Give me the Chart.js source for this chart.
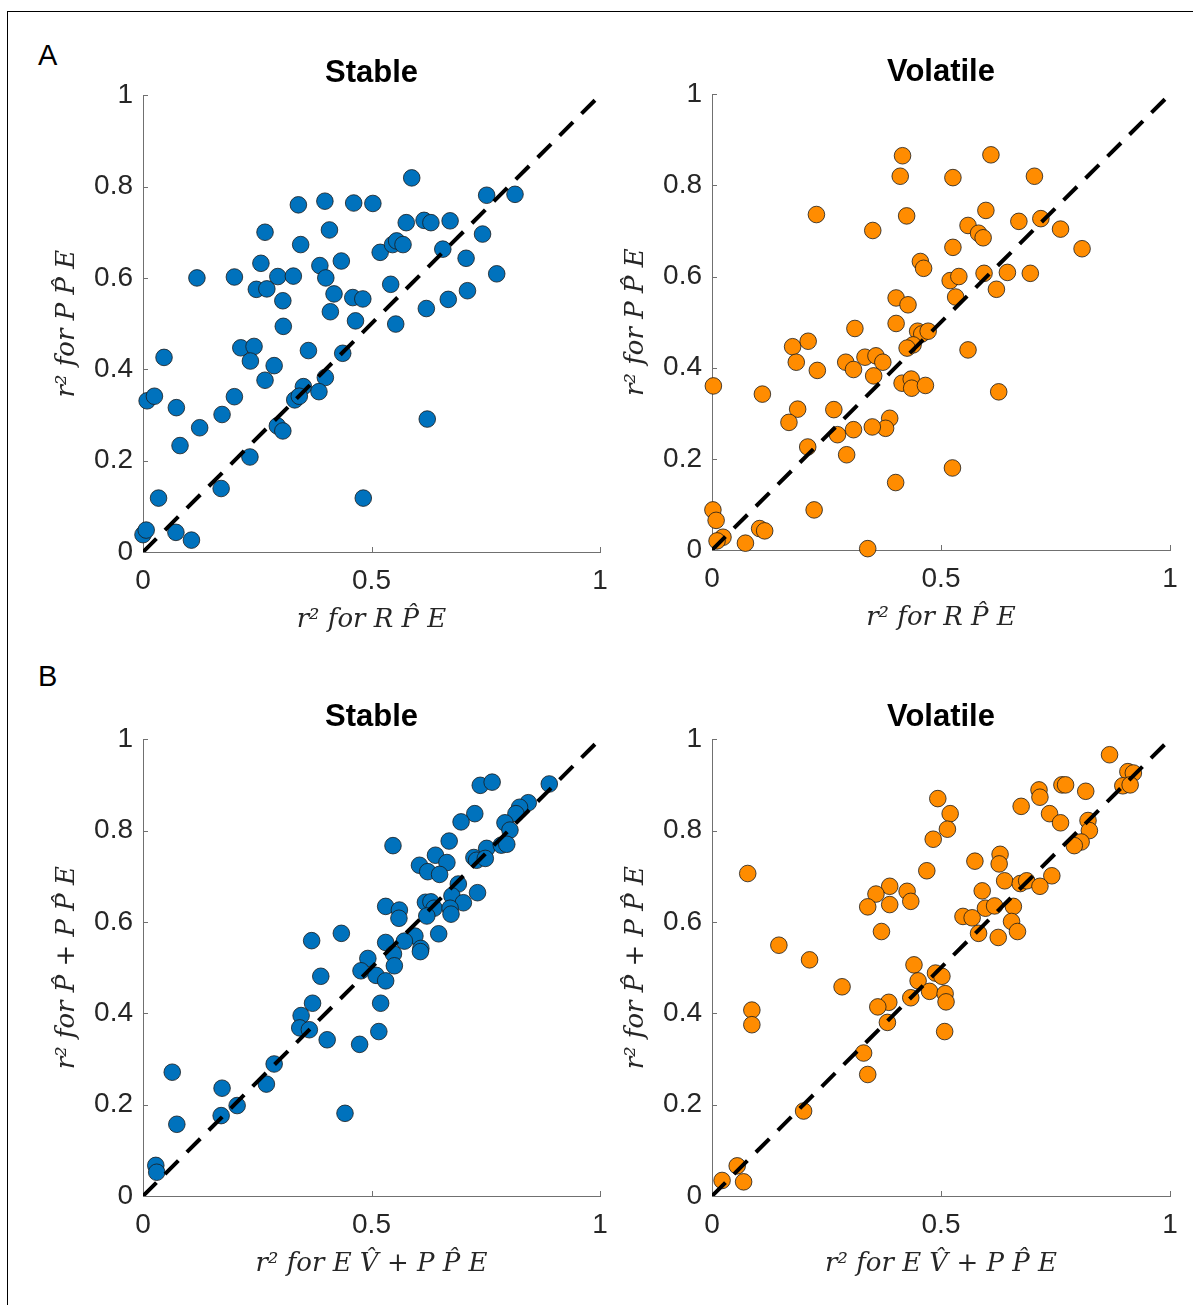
<!DOCTYPE html>
<html>
<head>
<meta charset="utf-8">
<script src="https://cdn.jsdelivr.net/npm/chart.js@4.4.1/dist/chart.umd.min.js"></script>
<style>
    body { margin: 0; background: #fff; width: 1193px; height: 1305px; position: relative; overflow: hidden; }
    canvas { position: absolute; }
    .frame { position: absolute; left: 7px; top: 11px; width: 1300px; height: 1400px; border-top: 1px solid #000; border-left: 1px solid #000; }
    .letter { position: absolute; font-family: "Liberation Sans", Arial, sans-serif; font-size: 29px; line-height: 29px; color: #000; }
</style>
</head>
<body>
<div class="frame"></div>
<div class="letter" style="left:38px; top:41px;">A</div>
<div class="letter" style="left:38px; top:662px;">B</div>
<canvas id="stableA"></canvas>
<canvas id="volatileA"></canvas>
<canvas id="stableB"></canvas>
<canvas id="volatileB"></canvas>
<script>
// Tick values / labels and reference line range
const xTicks = [0, 0.5, 1];
const xTickLabels = ["0", "0.5", "1"];
const yTicks = [0, 0.2, 0.4, 0.6, 0.8, 1];
const yTickLabels = ["0", "0.2", "0.4", "0.6", "0.8", "1"];
const identityRange = [0, 1];

// A - Stable: r2 for RPE (x) vs r2 for PPE (y)
const stableA_x = [0.588, 0.752, 0.814, 0.340, 0.398, 0.461, 0.503, 0.576, 0.615, 0.630,
    0.672, 0.267, 0.408, 0.743, 0.345, 0.519, 0.546, 0.555, 0.569, 0.656,
    0.258, 0.387, 0.434, 0.707, 0.118, 0.200, 0.295, 0.329, 0.400, 0.774,
    0.248, 0.271, 0.306, 0.418, 0.459, 0.481, 0.542, 0.710, 0.668, 0.410,
    0.465, 0.553, 0.620, 0.307, 0.214, 0.243, 0.362, 0.437, 0.046, 0.235,
    0.287, 0.267, 0.399, 0.351, 0.009, 0.025, 0.200, 0.332, 0.342, 0.385,
    0.073, 0.173, 0.124, 0.294, 0.306, 0.622, 0.081, 0.234, 0.171, 0.034,
    0.482, 0.000, 0.007, 0.072, 0.106];
const stableA_y = [0.819, 0.781, 0.783, 0.760, 0.768, 0.764, 0.763, 0.721, 0.726, 0.721,
    0.725, 0.700, 0.705, 0.696, 0.673, 0.656, 0.673, 0.681, 0.673, 0.663,
    0.632, 0.627, 0.637, 0.643, 0.600, 0.602, 0.603, 0.604, 0.600, 0.609,
    0.575, 0.576, 0.550, 0.565, 0.557, 0.554, 0.586, 0.572, 0.553, 0.526,
    0.506, 0.499, 0.533, 0.494, 0.447, 0.450, 0.441, 0.435, 0.426, 0.418,
    0.408, 0.376, 0.382, 0.362, 0.331, 0.341, 0.340, 0.333, 0.341, 0.351,
    0.316, 0.301, 0.272, 0.276, 0.265, 0.291, 0.233, 0.208, 0.139, 0.118,
    0.118, 0.038, 0.048, 0.043, 0.026];

// A - Volatile
const volatileA_x = [0.416, 0.609, 0.411, 0.526, 0.704, 0.228, 0.425, 0.598, 0.351, 0.559,
    0.582, 0.592, 0.670, 0.718, 0.761, 0.526, 0.808, 0.455, 0.462, 0.520,
    0.539, 0.594, 0.645, 0.695, 0.621, 0.532, 0.402, 0.428, 0.402, 0.312,
    0.449, 0.458, 0.472, 0.439, 0.426, 0.176, 0.210, 0.184, 0.230, 0.292,
    0.309, 0.334, 0.358, 0.373, 0.353, 0.559, 0.415, 0.435, 0.436, 0.466,
    0.003, 0.110, 0.626, 0.187, 0.266, 0.168, 0.388, 0.379, 0.350, 0.309,
    0.274, 0.209, 0.294, 0.525, 0.401, 0.002, 0.009, 0.223, 0.104, 0.115,
    0.024, 0.011, 0.073, 0.340];
const volatileA_y = [0.865, 0.867, 0.820, 0.817, 0.820, 0.736, 0.733, 0.745, 0.701, 0.712,
    0.695, 0.685, 0.721, 0.727, 0.704, 0.664, 0.661, 0.633, 0.618, 0.591,
    0.600, 0.607, 0.609, 0.607, 0.572, 0.555, 0.553, 0.538, 0.497, 0.486,
    0.480, 0.474, 0.480, 0.450, 0.443, 0.446, 0.458, 0.412, 0.394, 0.412,
    0.396, 0.423, 0.426, 0.412, 0.382, 0.439, 0.366, 0.375, 0.355, 0.361,
    0.360, 0.342, 0.347, 0.309, 0.308, 0.280, 0.289, 0.267, 0.270, 0.264,
    0.253, 0.226, 0.209, 0.180, 0.148, 0.088, 0.065, 0.088, 0.047, 0.042,
    0.028, 0.020, 0.015, 0.003];

// B - Stable: r2 for EV + PPE (x) vs r2 for P + PPE (y)
const stableB_x = [0.738, 0.764, 0.889, 0.843, 0.824, 0.816, 0.726, 0.696, 0.792, 0.803,
    0.670, 0.547, 0.752, 0.784, 0.796, 0.724, 0.730, 0.749, 0.640, 0.665,
    0.605, 0.623, 0.649, 0.690, 0.732, 0.676, 0.701, 0.618, 0.630, 0.637,
    0.672, 0.674, 0.621, 0.531, 0.561, 0.560, 0.595, 0.647, 0.608, 0.607,
    0.572, 0.531, 0.548, 0.434, 0.369, 0.492, 0.477, 0.510, 0.531, 0.550,
    0.389, 0.371, 0.520, 0.346, 0.343, 0.364, 0.403, 0.516, 0.474, 0.287,
    0.270, 0.064, 0.173, 0.206, 0.171, 0.442, 0.074, 0.028, 0.030];
const stableB_y = [0.899, 0.906, 0.902, 0.861, 0.851, 0.837, 0.837, 0.819, 0.817, 0.801,
    0.777, 0.767, 0.761, 0.768, 0.770, 0.741, 0.735, 0.739, 0.746, 0.730,
    0.724, 0.710, 0.704, 0.683, 0.664, 0.657, 0.642, 0.643, 0.644, 0.630,
    0.630, 0.617, 0.613, 0.634, 0.626, 0.608, 0.569, 0.574, 0.542, 0.535,
    0.558, 0.555, 0.530, 0.575, 0.559, 0.520, 0.493, 0.483, 0.471, 0.504,
    0.481, 0.422, 0.422, 0.395, 0.368, 0.364, 0.342, 0.360, 0.332, 0.289,
    0.245, 0.271, 0.236, 0.198, 0.176, 0.181, 0.157, 0.067, 0.052];

// B - Volatile
const volatileB_x = [0.868, 0.908, 0.920, 0.897, 0.913, 0.764, 0.772, 0.714, 0.716, 0.816,
    0.493, 0.675, 0.520, 0.737, 0.761, 0.514, 0.821, 0.824, 0.806, 0.791,
    0.483, 0.574, 0.629, 0.627, 0.469, 0.078, 0.639, 0.673, 0.687, 0.742,
    0.716, 0.590, 0.388, 0.358, 0.426, 0.434, 0.388, 0.340, 0.597, 0.617,
    0.658, 0.548, 0.568, 0.654, 0.667, 0.582, 0.625, 0.370, 0.146, 0.213,
    0.441, 0.488, 0.502, 0.450, 0.475, 0.509, 0.511, 0.284, 0.434, 0.386,
    0.362, 0.383, 0.508, 0.087, 0.087, 0.331, 0.340, 0.200, 0.055, 0.022,
    0.069];
const volatileB_y = [0.966, 0.929, 0.926, 0.898, 0.900, 0.900, 0.900, 0.889, 0.873, 0.886,
    0.870, 0.853, 0.837, 0.837, 0.817, 0.803, 0.822, 0.800, 0.775, 0.767,
    0.781, 0.733, 0.748, 0.727, 0.712, 0.706, 0.690, 0.684, 0.690, 0.701,
    0.678, 0.668, 0.678, 0.661, 0.667, 0.645, 0.638, 0.633, 0.630, 0.635,
    0.634, 0.612, 0.609, 0.601, 0.579, 0.575, 0.566, 0.579, 0.549, 0.517,
    0.506, 0.488, 0.481, 0.471, 0.448, 0.443, 0.425, 0.458, 0.434, 0.424,
    0.414, 0.380, 0.360, 0.407, 0.375, 0.313, 0.266, 0.186, 0.066, 0.034,
    0.031];

const BLUE = "#0072BD";
const ORANGE = "#FF8C00";
const AXIS_COLOR = "#707070";
const TEXT_COLOR = "#262626";

// Space round the chart area inside each canvas
const PAD_LEFT = 123, PAD_TOP = 55, PAD_RIGHT = 20, PAD_BOTTOM = 88;

const panels = [
    { id: "stableA", title: "Stable", xs: stableA_x, ys: stableA_y, color: BLUE,
      xLabel: "r\u00B2 for R P\u0302 E", yLabel: "r\u00B2 for P P\u0302 E",
      area: { l: 143, t: 95, w: 457, h: 457 } },
    { id: "volatileA", title: "Volatile", xs: volatileA_x, ys: volatileA_y, color: ORANGE,
      xLabel: "r\u00B2 for R P\u0302 E", yLabel: "r\u00B2 for P P\u0302 E",
      area: { l: 712, t: 94, w: 458, h: 456 } },
    { id: "stableB", title: "Stable", xs: stableB_x, ys: stableB_y, color: BLUE,
      xLabel: "r\u00B2 for E V\u0302 + P P\u0302 E", yLabel: "r\u00B2 for P\u0302 + P P\u0302 E",
      area: { l: 143, t: 739, w: 457, h: 457 } },
    { id: "volatileB", title: "Volatile", xs: volatileB_x, ys: volatileB_y, color: ORANGE,
      xLabel: "r\u00B2 for E V\u0302 + P P\u0302 E", yLabel: "r\u00B2 for P\u0302 + P P\u0302 E",
      area: { l: 712, t: 739, w: 458, h: 457 } }
];

// MATLAB style tick marks pointing into the plot
const inwardTicks = {
    id: "inwardTicks",
    beforeDatasetsDraw(chart) {
        const { ctx, chartArea, scales } = chart;
        ctx.save();
        ctx.strokeStyle = AXIS_COLOR;
        ctx.lineWidth = 1;
        scales.x.ticks.forEach(t => {
            const px = Math.round(scales.x.getPixelForValue(t.value)) + 0.5;
            ctx.beginPath();
            ctx.moveTo(px, chartArea.bottom);
            ctx.lineTo(px, chartArea.bottom - 5);
            ctx.stroke();
        });
        scales.y.ticks.forEach(t => {
            const py = Math.round(scales.y.getPixelForValue(t.value)) + 0.5;
            ctx.beginPath();
            ctx.moveTo(chartArea.left, py);
            ctx.lineTo(chartArea.left + 5, py);
            ctx.stroke();
        });
        ctx.restore();
    }
};

const labelFont = { family: "'DejaVu Serif', 'Liberation Serif', serif", size: 26, style: "italic" };
const tickFont = { family: "'Liberation Sans', Arial, sans-serif", size: 28 };

panels.forEach(p => {
    const canvas = document.getElementById(p.id);
    const w = PAD_LEFT + p.area.w + PAD_RIGHT;
    const h = PAD_TOP + p.area.h + PAD_BOTTOM;
    canvas.style.left = (p.area.l - PAD_LEFT) + "px";
    canvas.style.top = (p.area.t - PAD_TOP) + "px";
    canvas.style.width = w + "px";
    canvas.style.height = h + "px";
    canvas.width = w;
    canvas.height = h;

    const points = p.xs.map((x, i) => ({ x: x, y: p.ys[i] }));
    const identity = identityRange.map(v => ({ x: v, y: v }));

    new Chart(canvas.getContext("2d"), {
        type: "scatter",
        data: {
            datasets: [{
                type: "line",
                data: identity,
                borderColor: "#000",
                borderWidth: 4,
                borderDash: [19, 12],
                pointRadius: 0,
                fill: false,
                order: 0
            }, {
                data: points,
                backgroundColor: p.color,
                borderColor: "#1a1a1a",
                borderWidth: 0.8,
                pointRadius: 8.3,
                pointHoverRadius: 8.3,
                clip: false,
                order: 1
            }]
        },
        options: {
            responsive: false,
            animation: false,
            devicePixelRatio: 1,
            layout: { padding: { left: 0, top: 0, right: PAD_RIGHT, bottom: 0 } },
            plugins: {
                legend: { display: false },
                tooltip: { enabled: false },
                title: {
                    display: true,
                    fullSize: false,
                    text: p.title,
                    color: "#000",
                    font: { family: "'Liberation Sans', Arial, sans-serif", size: 31, weight: "bold" },
                    padding: { top: 15, bottom: 3 }
                }
            },
            scales: {
                x: {
                    type: "linear",
                    min: 0,
                    max: 1,
                    afterBuildTicks: s => { s.ticks = xTicks.map(v => ({ value: v })); },
                    afterFit: s => { s.height = PAD_BOTTOM; },
                    grid: { display: false, drawTicks: false },
                    border: { display: true, color: AXIS_COLOR, width: 1 },
                    ticks: {
                        font: tickFont, color: TEXT_COLOR, padding: 12, maxRotation: 0,
                        callback: (v, i) => xTickLabels[i]
                    },
                    title: { display: true, text: p.xLabel, font: labelFont, color: TEXT_COLOR, padding: { top: 0, bottom: 4 } }
                },
                y: {
                    type: "linear",
                    min: 0,
                    max: 1,
                    afterBuildTicks: s => { s.ticks = yTicks.map(v => ({ value: v })); },
                    afterFit: s => { s.width = PAD_LEFT; },
                    grid: { display: false, drawTicks: false },
                    border: { display: true, color: AXIS_COLOR, width: 1 },
                    ticks: {
                        font: tickFont, color: TEXT_COLOR, padding: 10,
                        callback: (v, i) => yTickLabels[i]
                    },
                    title: { display: true, text: p.yLabel, font: labelFont, color: TEXT_COLOR, padding: { top: 32, bottom: 0 } }
                }
            }
        },
        plugins: [inwardTicks]
    });
});
</script>
</body>
</html>
